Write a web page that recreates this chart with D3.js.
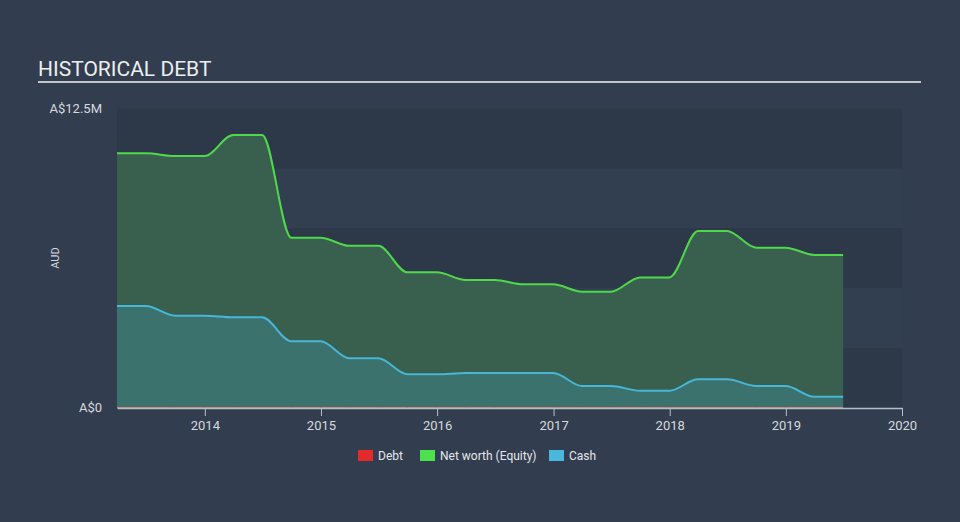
<!DOCTYPE html>
<html>
<head>
<meta charset="utf-8">
<script src="https://cdn.jsdelivr.net/npm/d3@7"></script>
<style>
  html, body { margin: 0; padding: 0; background: #323e4f; }
  svg { display: block; font-family: Roboto, "Open Sans", sans-serif; }
</style>
</head>
<body>
<svg id="chart" width="960" height="522"></svg>
<script>
// ---- data ----
const dates = ["2013-03-31","2013-06-30","2013-09-30","2013-12-31","2014-03-31","2014-06-30",
  "2014-09-30","2014-12-31","2015-03-31","2015-06-30","2015-09-30","2015-12-31",
  "2016-03-31","2016-06-30","2016-09-30","2016-12-31","2017-03-31","2017-06-30",
  "2017-09-30","2017-12-31","2018-03-31","2018-06-30","2018-09-30","2018-12-31",
  "2019-03-31","2019-06-30"];
const equity = [10.63,10.63,10.51,10.51,11.39,11.39,7.10,7.10,6.76,6.76,5.65,5.65,
  5.33,5.33,5.15,5.15,4.84,4.84,5.44,5.44,7.38,7.38,6.68,6.68,6.38,6.38];
const cash = [4.24,4.24,3.84,3.84,3.77,3.77,2.77,2.77,2.06,2.06,1.39,1.39,
  1.44,1.44,1.44,1.44,0.90,0.90,0.70,0.70,1.18,1.18,0.90,0.90,0.45,0.45];
const debt = [0,0,0,0,0,0,0,0,0,0,0,0,0,0,0,0,0,0,0,0,0,0,0,0,0,0];
const xTickYears = [2014,2015,2016,2017,2018,2019,2020];
const yTickLabels = ["A$0","A$12.5M"];
const legendItems = ["Debt","Net worth (Equity)","Cash"];
const legendColors = ["#e52a2a","#4fe04f","#4ab8dc"];

// ---- layout ----
const svg = d3.select("#chart");
const pLeft = 117, pRight = 902, pTop = 108.5, pBottom = 407.5;
const parse = d3.timeParse("%Y-%m-%d");
const xs = dates.map(parse);
const x = d3.scaleTime().domain([parse("2013-03-31"), new Date(2020,0,1)]).range([pLeft, pRight]);
const y = d3.scaleLinear().domain([0, 12.5]).range([pBottom, pTop]);

// title
svg.append("text").attr("x", 38).attr("y", 75.5).attr("fill", "#eceef0")
  .attr("font-size", 21).text("HISTORICAL DEBT");
svg.append("rect").attr("x", 38).attr("y", 81).attr("width", 883).attr("height", 2).attr("fill", "#c3c7cd");

// bands
const bandEdges = d3.range(0, 12.5 + 0.01, 2.5);
for (let i = 0; i < 5; i++) {
  svg.append("rect").attr("x", pLeft).attr("width", pRight - pLeft)
    .attr("y", y(bandEdges[i+1])).attr("height", y(bandEdges[i]) - y(bandEdges[i+1]))
    .attr("fill", i % 2 === 0 ? "#2d3949" : "#323f50");
}

const curve = d3.curveMonotoneX;
const areaGen = vals => d3.area().curve(curve).x((d, i) => x(xs[i])).y0(y(0)).y1(d => y(d))(vals);
const lineGen = vals => d3.line().curve(curve).x((d, i) => x(xs[i])).y(d => y(d))(vals);

svg.append("path").attr("d", areaGen(equity)).attr("fill", "#39604f");
svg.append("path").attr("d", areaGen(cash)).attr("fill", "#3b726d");
svg.append("path").attr("d", lineGen(equity)).attr("fill", "none").attr("stroke", "#4fd94a").attr("stroke-width", 2);
svg.append("path").attr("d", lineGen(cash)).attr("fill", "none").attr("stroke", "#47b6d8").attr("stroke-width", 2);
svg.append("path").attr("d", lineGen(debt)).attr("fill", "none").attr("stroke", "#d9776b").attr("stroke-width", 1);

// x axis
const xAxis = d3.axisBottom(x).tickValues(xTickYears.map(yr => new Date(yr, 0, 1)))
  .tickFormat(d3.timeFormat("%Y")).tickSize(8).tickSizeOuter(0);
const gx = svg.append("g").attr("transform", `translate(0,${pBottom + 0.5})`).call(xAxis);
gx.select(".domain").attr("stroke", "#b9bec6").attr("stroke-width", 1.5);
gx.selectAll(".tick line").attr("stroke", "#b9bec6");
gx.selectAll(".tick text").attr("fill", "#d6d9de").attr("font-size", 13).attr("dy", "0.85em")
  .attr("font-family", "Roboto, sans-serif");

// y labels
svg.append("text").attr("x", 102).attr("y", y(12.5)).attr("dy", "0.35em").attr("text-anchor", "end")
  .attr("fill", "#d6d9de").attr("font-size", 13).text(yTickLabels[1]);
svg.append("text").attr("x", 102).attr("y", y(0)).attr("dy", "0.35em").attr("text-anchor", "end")
  .attr("fill", "#d6d9de").attr("font-size", 13).text(yTickLabels[0]);
svg.append("text").attr("transform", `translate(59,${(pTop + pBottom) / 2}) rotate(-90)`)
  .attr("text-anchor", "middle").attr("fill", "#d6d9de").attr("font-size", 11).text("AUD");

// legend
const legendX = [358, 420, 549];
legendItems.forEach((name, i) => {
  svg.append("rect").attr("x", legendX[i]).attr("y", 450).attr("width", 15).attr("height", 11)
    .attr("fill", legendColors[i]);
  svg.append("text").attr("x", legendX[i] + 20).attr("y", 456).attr("dy", "0.35em")
    .attr("fill", "#e4e6ea").attr("font-size", 12).text(name);
});
</script>
</body>
</html>
